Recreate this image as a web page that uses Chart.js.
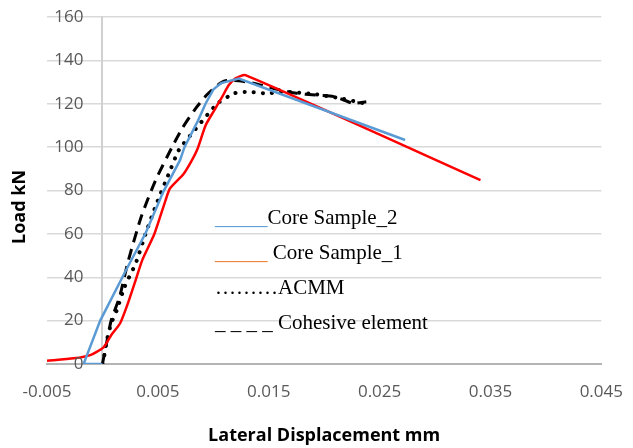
<!DOCTYPE html>
<html>
<head>
<meta charset="utf-8">
<script src="https://cdn.jsdelivr.net/npm/chart.js@4/dist/chart.umd.min.js"></script>
<style>
  html, body { margin: 0; padding: 0; background: #fff; }
  #wrap { width: 633px; height: 448px; position: relative; }
</style>
</head>
<body>
<div id="wrap"><canvas id="chart"></canvas></div>
<script>
// axis ticks
const X_TICKS = [-0.005, 0.005, 0.015, 0.025, 0.035, 0.045];
const Y_TICKS = [0, 20, 40, 60, 80, 100, 120, 140, 160];

// Core Sample_2 (blue)
const sample2X = [0, -0.0017, -0.0002, 0.0021, 0.0039, 0.0055, 0.0070, 0.0074, 0.0086, 0.0093, 0.0100, 0.0107, 0.0123, 0.0273];
const sample2Y = [0, 0, 20, 43, 60.4, 79.5, 94, 100, 112, 120, 126.5, 129.5, 131.6, 103.3];

// Core Sample_1 (red)
const sample1X = [-0.005, -0.0026, -0.0011, 0.0001, 0.0008, 0.0016, 0.0023, 0.0030, 0.0036, 0.0047, 0.0057, 0.0061, 0.0073, 0.0080, 0.0086, 0.0093, 0.0101, 0.0108, 0.0114, 0.0120, 0.0129, 0.0341];
const sample1Y = [1.5, 2.6, 4.1, 7.7, 13.4, 18.8, 28, 38.7, 48, 60.2, 75.6, 81, 87.5, 93.3, 99.5, 110, 117.1, 123.2, 128.6, 131.7, 133.2, 84.8];

// ACMM (dotted)
const acmmX = [0, 0.0001, 0.0004, 0.0008, 0.0013, 0.0020, 0.0030, 0.0039, 0.0049, 0.0060, 0.0069, 0.0082, 0.0092, 0.0104, 0.0119, 0.0131, 0.0148, 0.0166, 0.0190, 0.0215, 0.0235];
const acmmY = [0, 1.8, 11, 18.8, 24.9, 35.6, 46.4, 60.2, 74.1, 87.9, 98.7, 107.1, 113.3, 120.2, 124.8, 125.5, 124.8, 125.5, 124.5, 122.5, 120.3];

// Cohesive element (dashed)
const cohesiveX = [0, 0.0004, 0.0008, 0.00155, 0.0023, 0.0035, 0.0048, 0.0063, 0.0072, 0.0083, 0.0094, 0.0104, 0.0111, 0.0123, 0.0137, 0.0154, 0.0175, 0.0192, 0.0210, 0.0219, 0.0226, 0.0238];
const cohesiveY = [0, 10.3, 20.3, 31, 47, 67.9, 84.8, 100.2, 108.7, 117.1, 124, 128.6, 130.6, 130.6, 129.4, 127.1, 124.8, 124, 123.2, 121.5, 120.2, 120.9];

// legend text (drawn inside the plot, like the original)
const legendMarks  = ['_____', '_____ ', '………', '_ _ _ _ '];
const legendLabels = ['Core Sample_2', 'Core Sample_1', 'ACMM', 'Cohesive element'];
const legendMarkColors = ['#5b9bd5', '#ed7d31', '#000', '#000'];

const pts = (xs, ys) => xs.map((x, i) => ({ x, y: ys[i] }));

const textLegend = {
  id: 'textLegend',
  afterDatasetsDraw(chart) {
    const ctx = chart.ctx;
    ctx.save();
    ctx.font = '21px "Liberation Serif", "Times New Roman", serif';
    ctx.textBaseline = 'alphabetic';
    ctx.textAlign = 'left';
    legendLabels.forEach((label, i) => {
      const y = 224 + i * 35;
      let x = 215;
      ctx.fillStyle = legendMarkColors[i];
      ctx.fillText(legendMarks[i], x, y);
      x += ctx.measureText(legendMarks[i]).width;
      ctx.fillStyle = '#000';
      ctx.fillText(label, x, y);
    });
    ctx.restore();
  }
};

// y tick labels sit left of the x=0 axis line; chart.js puts them flush with it
const yLabels = {
  id: 'yLabels',
  afterDraw(chart) {
    const ctx = chart.ctx;
    const xs = chart.scales.x, ys = chart.scales.y;
    const right = xs.getPixelForValue(0) - 19;
    ctx.save();
    ctx.font = '17px "Open Sans", sans-serif';
    ctx.fillStyle = '#595959';
    ctx.textAlign = 'right';
    ctx.textBaseline = 'middle';
    Y_TICKS.forEach(v => ctx.fillText(String(v), right, ys.getPixelForValue(v)));

    ctx.translate(20, 207);
    ctx.rotate(-Math.PI / 2);
    ctx.font = 'bold 18px "Open Sans", sans-serif';
    ctx.fillStyle = '#000';
    ctx.textAlign = 'center';
    ctx.fillText('Load kN', 0, 0);
    ctx.restore();
  }
};

new Chart(document.getElementById('chart'), {
  type: 'line',
  data: {
    datasets: [
      { label: 'Core Sample_2', data: pts(sample2X, sample2Y), borderColor: '#5b9bd5', borderWidth: 2.5, tension: 0 },
      { label: 'Core Sample_1', data: pts(sample1X, sample1Y), borderColor: '#ff0000', borderWidth: 2.5, tension: 0.2 },
      { label: 'ACMM', data: pts(acmmX, acmmY), borderColor: '#000', borderWidth: 4, borderDash: [0.1, 9], borderCapStyle: 'round', tension: 0.2 },
      { label: 'Cohesive element', data: pts(cohesiveX, cohesiveY), borderColor: '#000', borderWidth: 3, borderDash: [11, 7], tension: 0.2 },
    ],
  },
  options: {
    responsive: true,
    maintainAspectRatio: false,
    animation: false,
    parsing: false,
    elements: { point: { radius: 0 } },
    layout: { padding: { left: 47, right: 11, top: 17, bottom: 0 } },
    plugins: {
      legend: { display: false },
      tooltip: { enabled: false },
    },
    scales: {
      x: {
        type: 'linear',
        min: X_TICKS[0],
        max: X_TICKS[X_TICKS.length - 1],
        afterBuildTicks: s => { s.ticks = X_TICKS.map(v => ({ value: v })); },
        afterFit: s => { s.height = 84; },
        grid: { display: false },
        border: { color: '#b4b4b4', width: 2 },
        ticks: {
          padding: 10,
          color: '#595959',
          font: { family: 'Open Sans', size: 17 },
          maxRotation: 0,
          callback: v => v.toFixed(3),
        },
        title: {
          display: true,
          text: 'Lateral Displacement mm',
          color: '#000',
          font: { family: 'Open Sans', size: 18, weight: 'bold' },
          padding: { top: 0, bottom: 1 },
        },
      },
      y: {
        type: 'linear',
        position: { x: 0 },
        min: Y_TICKS[0],
        max: Y_TICKS[Y_TICKS.length - 1],
        afterBuildTicks: s => { s.ticks = Y_TICKS.map(v => ({ value: v })); },
        grid: { color: '#d9d9d9', lineWidth: 1.5, drawTicks: false },
        border: { color: '#d0d0d0', width: 2 },
        ticks: { display: false },
      },
    },
  },
  plugins: [textLegend, yLabels],
});
</script>
</body>
</html>
